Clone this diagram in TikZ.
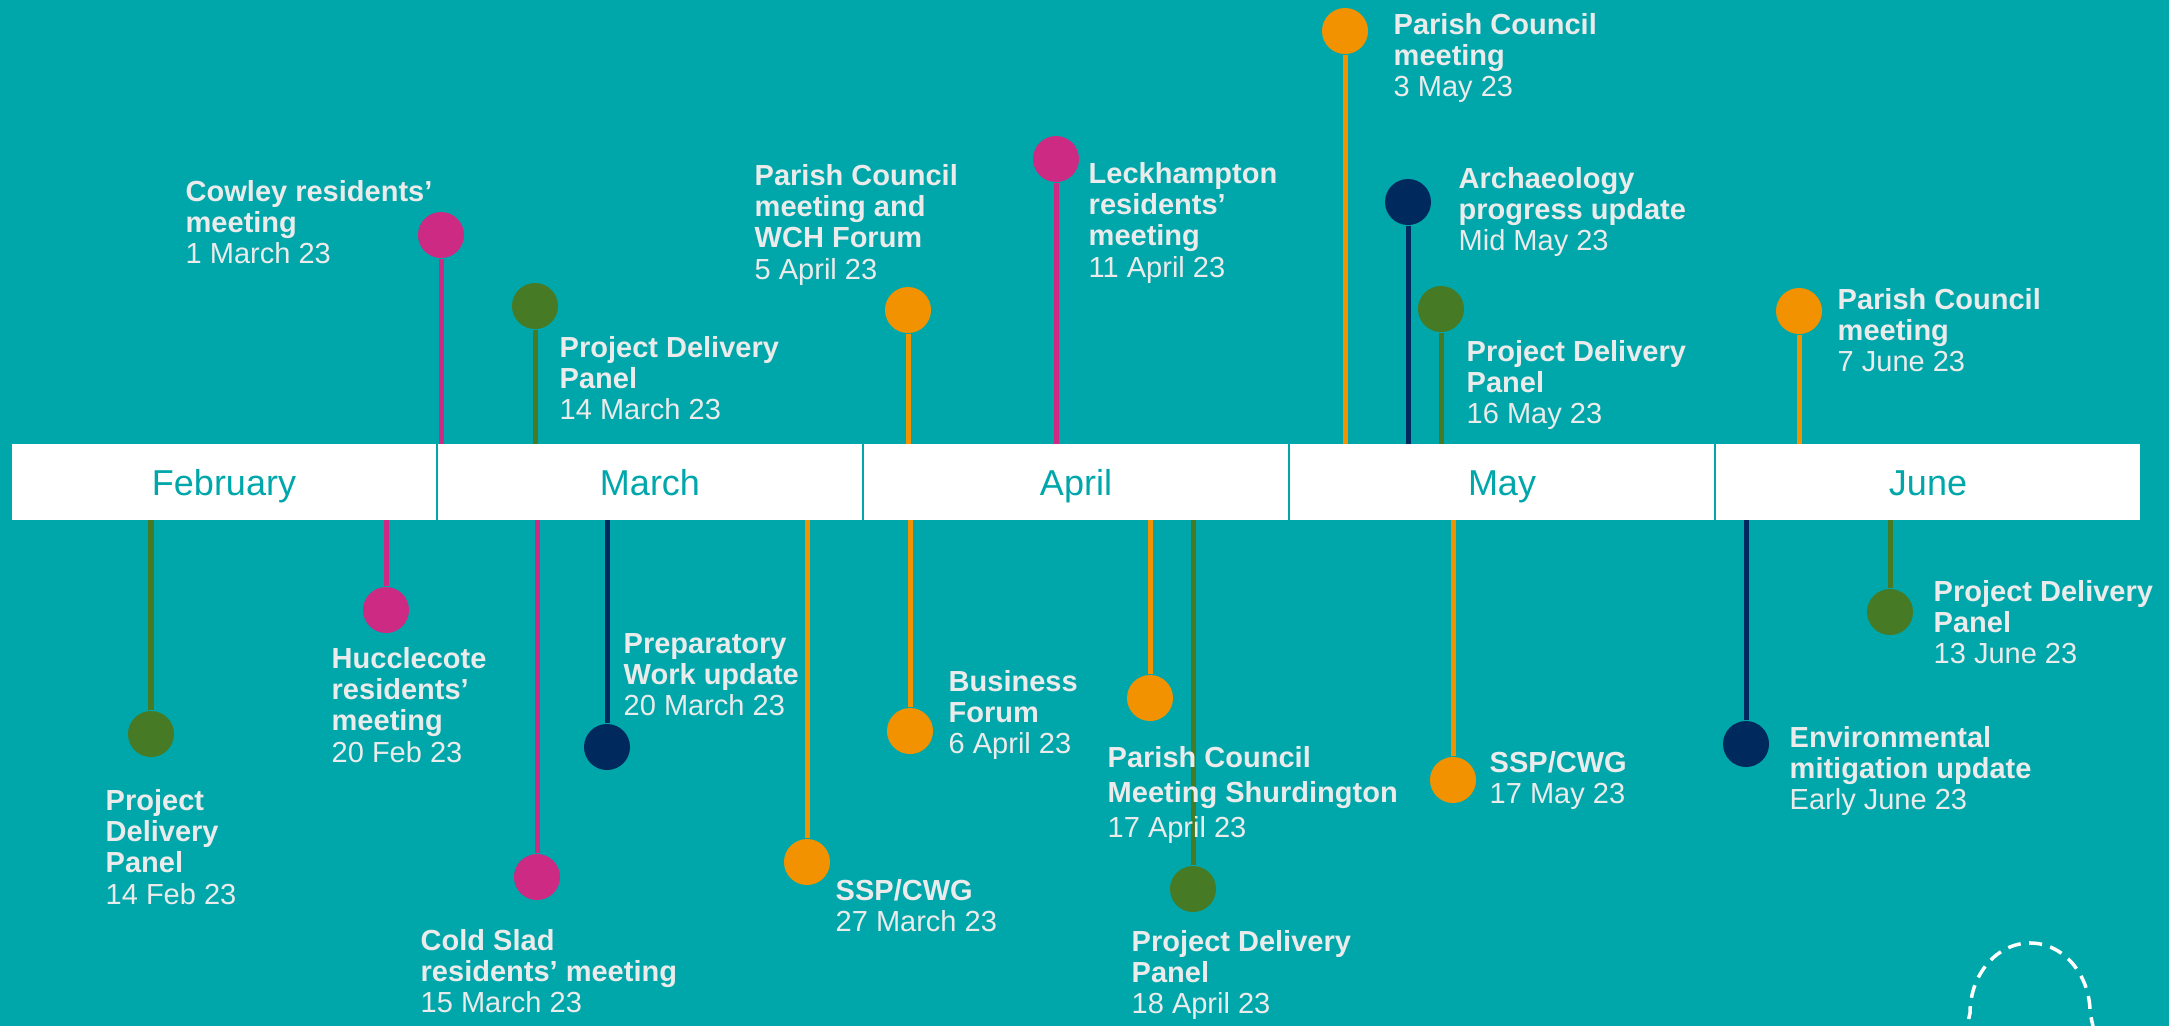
\documentclass[tikz,border=0pt]{standalone}
\usepackage{fontspec}
\setmainfont{Liberation Sans}
\definecolor{bgteal}{HTML}{00A7AA}
\definecolor{evpink}{HTML}{CC2A83}
\definecolor{evgreen}{HTML}{477A24}
\definecolor{evorange}{HTML}{F39200}
\definecolor{evnavy}{HTML}{002A5E}
\definecolor{txtwhite}{HTML}{EBEBEB}
\def\evtxt#1{\vtop{\halign{##\hfil\cr#1\crcr}}}
\begin{document}
\begin{tikzpicture}[x=0.01cm,y=-0.01cm,
  evlabel/.style={anchor=base west, inner sep=0pt, text=txtwhite, font=\fontsize{8.25pt}{8.95pt}\selectfont},
  evlabelwide/.style={evlabel, font=\fontsize{8.25pt}{9.96pt}\selectfont},
  evdot/.style={circle, fill=#1, draw=none, minimum size=0.46cm, inner sep=0pt},
  evstick/.style={draw=#1, line width=0.05cm},
  monthbox/.style={fill=white, draw=none, minimum width=4.23cm, minimum height=0.76cm, inner sep=0pt,
    text=bgteal, text height=0.26cm, text depth=0pt, font=\fontsize{10.24pt}{12pt}\selectfont}]
\fill[bgteal] (0,0) rectangle (2169,1026);
\useasboundingbox (0,0) rectangle (2169,1026);
\coordinate (bartop) at (0,444);
\coordinate (barbot) at (0,520);
% month bar
\node[monthbox] (feb) at (224,482) {February};
\node[monthbox] (mar) at (650,482) {March};
\node[monthbox] (apr) at (1076,482) {April};
\node[monthbox] (may) at (1502,482) {May};
\node[monthbox] (jun) at (1928,482) {June};
% dots above
\node[evdot=evpink]   (p1) at (441,235) {};
\node[evdot=evgreen]  (p2) at (535,306) {};
\node[evdot=evorange] (p3) at (908,310) {};
\node[evdot=evpink]   (p4) at (1056,159) {};
\node[evdot=evorange] (p5) at (1345,31) {};
\node[evdot=evnavy]   (p6) at (1408,202) {};
\node[evdot=evgreen]  (p7) at (1441,309) {};
\node[evdot=evorange] (p8) at (1799,311) {};
% dots below
\node[evdot=evgreen]  (p9) at (151,734) {};
\node[evdot=evpink]   (p10) at (386,610) {};
\node[evdot=evpink]   (p11) at (537,877) {};
\node[evdot=evnavy]   (p12) at (607,747) {};
\node[evdot=evorange] (p13) at (807,862) {};
\node[evdot=evorange] (p14) at (910,731) {};
\node[evdot=evorange] (p15) at (1150,698) {};
\node[evdot=evgreen]  (p16) at (1193,889) {};
\node[evdot=evorange] (p17) at (1453,780) {};
\node[evdot=evnavy]   (p18) at (1746,744) {};
\node[evdot=evgreen]  (p19) at (1890,612) {};
% sticks
\draw[evstick=evpink]   (p1) -- (p1 |- bartop);
\draw[evstick=evgreen]  (p2) -- (p2 |- bartop);
\draw[evstick=evorange] (p3) -- (p3 |- bartop);
\draw[evstick=evpink]   (p4) -- (p4 |- bartop);
\draw[evstick=evorange] (p5) -- (p5 |- bartop);
\draw[evstick=evnavy]   (p6) -- (p6 |- bartop);
\draw[evstick=evgreen]  (p7) -- (p7 |- bartop);
\draw[evstick=evorange] (p8) -- (p8 |- bartop);
\draw[evstick=evgreen]  (p9) -- (p9 |- barbot);
\draw[evstick=evpink]   (p10) -- (p10 |- barbot);
\draw[evstick=evpink]   (p11) -- (p11 |- barbot);
\draw[evstick=evnavy]   (p12) -- (p12 |- barbot);
\draw[evstick=evorange] (p13) -- (p13 |- barbot);
\draw[evstick=evorange] (p14) -- (p14 |- barbot);
\draw[evstick=evorange] (p15) -- (p15 |- barbot);
\draw[evstick=evgreen]  (p16) -- (p16 |- barbot);
\draw[evstick=evorange] (p17) -- (p17 |- barbot);
\draw[evstick=evnavy]   (p18) -- (p18 |- barbot);
\draw[evstick=evgreen]  (p19) -- (p19 |- barbot);
% labels above
\node[evlabel] (l1) at (185,201) {\evtxt{\textbf{Cowley residents’}\cr\textbf{meeting}\cr 1 March 23}};
\node[evlabel] (l2) at (559,357) {\evtxt{\textbf{Project Delivery}\cr\textbf{Panel}\cr 14 March 23}};
\node[evlabel] (l3) at (754,185) {\evtxt{\textbf{Parish Council}\cr\textbf{meeting and}\cr\textbf{WCH Forum}\cr 5 April 23}};
\node[evlabel] (l4) at (1088,183) {\evtxt{\textbf{Leckhampton}\cr\textbf{residents’}\cr\textbf{meeting}\cr 11 April 23}};
\node[evlabel] (l5) at (1393,34) {\evtxt{\textbf{Parish Council}\cr\textbf{meeting}\cr 3 May 23}};
\node[evlabel] (l6) at (1458,188) {\evtxt{\textbf{Archaeology}\cr\textbf{progress update}\cr Mid May 23}};
\node[evlabel] (l7) at (1466,361) {\evtxt{\textbf{Project Delivery}\cr\textbf{Panel}\cr 16 May 23}};
\node[evlabel] (l8) at (1837,309) {\evtxt{\textbf{Parish Council}\cr\textbf{meeting}\cr 7 June 23}};
% labels below
\node[evlabel] (l9) at (105,810) {\evtxt{\textbf{Project}\cr\textbf{Delivery}\cr\textbf{Panel}\cr 14 Feb 23}};
\node[evlabel] (l10) at (331,668) {\evtxt{\textbf{Hucclecote}\cr\textbf{residents’}\cr\textbf{meeting}\cr 20 Feb 23}};
\node[evlabel] (l11) at (420,950) {\evtxt{\textbf{Cold Slad}\cr\textbf{residents’ meeting}\cr 15 March 23}};
\node[evlabel] (l12) at (623,653) {\evtxt{\textbf{Preparatory}\cr\textbf{Work update}\cr 20 March 23}};
\node[evlabel] (l13) at (835,900) {\evtxt{\textbf{SSP/CWG}\cr 27 March 23}};
\node[evlabel] (l14) at (948,691) {\evtxt{\textbf{Business}\cr\textbf{Forum}\cr 6 April 23}};
\node[evlabelwide] (l15) at (1107,767) {\evtxt{\textbf{Parish Council}\cr\textbf{Meeting Shurdington}\cr 17 April 23}};
\node[evlabel] (l16) at (1131,951) {\evtxt{\textbf{Project Delivery}\cr\textbf{Panel}\cr 18 April 23}};
\node[evlabel] (l17) at (1489,772) {\evtxt{\textbf{SSP/CWG}\cr 17 May 23}};
\node[evlabel] (l18) at (1789,747) {\evtxt{\textbf{Environmental}\cr\textbf{mitigation update}\cr Early June 23}};
\node[evlabel] (l19) at (1933,601) {\evtxt{\textbf{Project Delivery}\cr\textbf{Panel}\cr 13 June 23}};
% dashed arch
\draw[white, line width=0.035cm, dash pattern=on 0.13cm off 0.085cm]
  (1964,1040) -- (1970,1013) arc[start angle=180, end angle=0, x radius=0.6cm, y radius=0.7cm] -- (2096,1040);
\end{tikzpicture}
\end{document}
